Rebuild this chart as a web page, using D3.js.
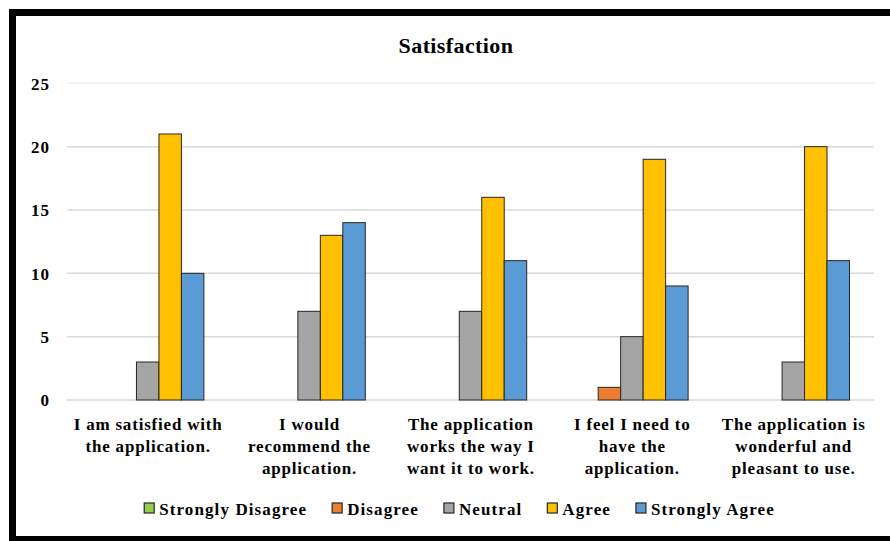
<!DOCTYPE html>
<html>
<head>
<meta charset="utf-8">
<script src="https://cdn.jsdelivr.net/npm/d3@7"></script>
<style>
  html, body { margin: 0; padding: 0; background: #fff; }
  svg { display: block; }
  text { font-family: "Liberation Serif", "Times New Roman", serif; font-weight: bold; fill: #000; }
</style>
</head>
<body>
<svg id="chart" width="890" height="541"></svg>
<script>
const title = "Satisfaction";
const categories = [
  ["I am satisfied with", "the application."],
  ["I would", "recommend the", "application."],
  ["The application", "works the way I", "want it to work."],
  ["I feel I need to", "have the", "application."],
  ["The application is", "wonderful and", "pleasant to use."]
];
const seriesNames = ["Strongly Disagree", "Disagree", "Neutral", "Agree", "Strongly Agree"];
const seriesColors = ["#92D050", "#ED7D31", "#A5A5A5", "#FFC000", "#5B9BD5"];
const stronglyDisagree = [0, 0, 0, 0, 0];
const disagree = [0, 0, 0, 1, 0];
const neutral = [3, 7, 7, 5, 3];
const agree = [21, 13, 16, 19, 20];
const stronglyAgree = [10, 14, 11, 9, 11];
const yTicks = [0, 5, 10, 15, 20, 25];

const seriesValues = [stronglyDisagree, disagree, neutral, agree, stronglyAgree];

const svg = d3.select("#chart");
const W = 890, H = 541;
const plot = { left: 67, right: 874, top: 83.3, bottom: 400 };

svg.append("rect").attr("width", W).attr("height", H).attr("fill", "#fff");

const x0 = d3.scaleBand().domain(d3.range(categories.length)).range([plot.left, plot.right]).padding(0);
const x1 = d3.scaleBand().domain(d3.range(seriesNames.length)).range([0, x0.bandwidth()])
  .paddingInner(0).paddingOuter(1.09);
const y = d3.scaleLinear().domain([0, 25]).range([plot.bottom, plot.top]);

// gridlines
svg.append("g").selectAll("line").data(yTicks).join("line")
  .attr("x1", plot.left).attr("x2", plot.right)
  .attr("y1", d => y(d)).attr("y2", d => y(d))
  .attr("stroke", d => d === 25 ? "#f2f2f2" : "#d9d9d9")
  .attr("stroke-width", 1.5);

// y axis labels
const yAxis = d3.axisLeft(y).tickValues(yTicks).tickSize(0).tickPadding(0);
const gy = svg.append("g").attr("transform", `translate(50,0)`).call(yAxis);
gy.select(".domain").remove();
gy.selectAll("text")
  .attr("font-size", 17).attr("font-family", "Liberation Serif").attr("font-weight", "bold")
  .attr("letter-spacing", "1px").attr("fill", "#000").attr("dy", "0.35em");

// bars
const groups = svg.append("g").selectAll("g").data(categories).join("g")
  .attr("transform", (d, i) => `translate(${x0(i)},0)`);
groups.selectAll("rect")
  .data((d, i) => seriesValues.map((s, j) => ({ j, v: s[i] })).filter(e => e.v > 0))
  .join("rect")
  .attr("x", e => x1(e.j))
  .attr("width", x1.bandwidth())
  .attr("y", e => y(e.v))
  .attr("height", e => y(0) - y(e.v))
  .attr("fill", e => seriesColors[e.j])
  .attr("stroke", "#262626")
  .attr("stroke-width", 1);

// category labels
groups.each(function (lines, i) {
  const t = d3.select(this).append("text")
    .attr("text-anchor", "middle")
    .attr("font-size", 17)
    .attr("letter-spacing", "0.8px")
    .attr("x", x0.bandwidth() / 2)
    .attr("y", 430);
  lines.forEach((ln, k) => {
    t.append("tspan").attr("x", x0.bandwidth() / 2 + 0.4).attr("y", 430 + k * 22).text(ln);
  });
});

// title
svg.append("text").attr("x", 456).attr("y", 53).attr("text-anchor", "middle")
  .attr("font-size", 22).attr("letter-spacing", "0.4px").text(title);

// legend
const leg = svg.append("g");
const items = leg.selectAll("g").data(seriesNames).join("g");
items.append("rect").attr("x", 0).attr("y", 503).attr("width", 10).attr("height", 10)
  .attr("fill", (d, i) => seriesColors[i]).attr("stroke", "#262626").attr("stroke-width", 1.2);
items.append("text").attr("x", 15).attr("y", 514.5).attr("font-size", 17)
  .attr("letter-spacing", "1.1px").text(d => d);
let cx = 0;
items.each(function () {
  const g = d3.select(this);
  const w = 15 + g.select("text").node().getComputedTextLength();
  g.attr("transform", `translate(${cx},0)`);
  cx += w + 25;
});
const total = cx - 25;
leg.attr("transform", `translate(${459 - total / 2 + 0.5},0)`);

// outer border
svg.append("rect").attr("x", 12.5).attr("y", 12.5).attr("width", W + 20).attr("height", 527)
  .attr("fill", "none").attr("stroke", "#000").attr("stroke-width", 7);
</script>
</body>
</html>
